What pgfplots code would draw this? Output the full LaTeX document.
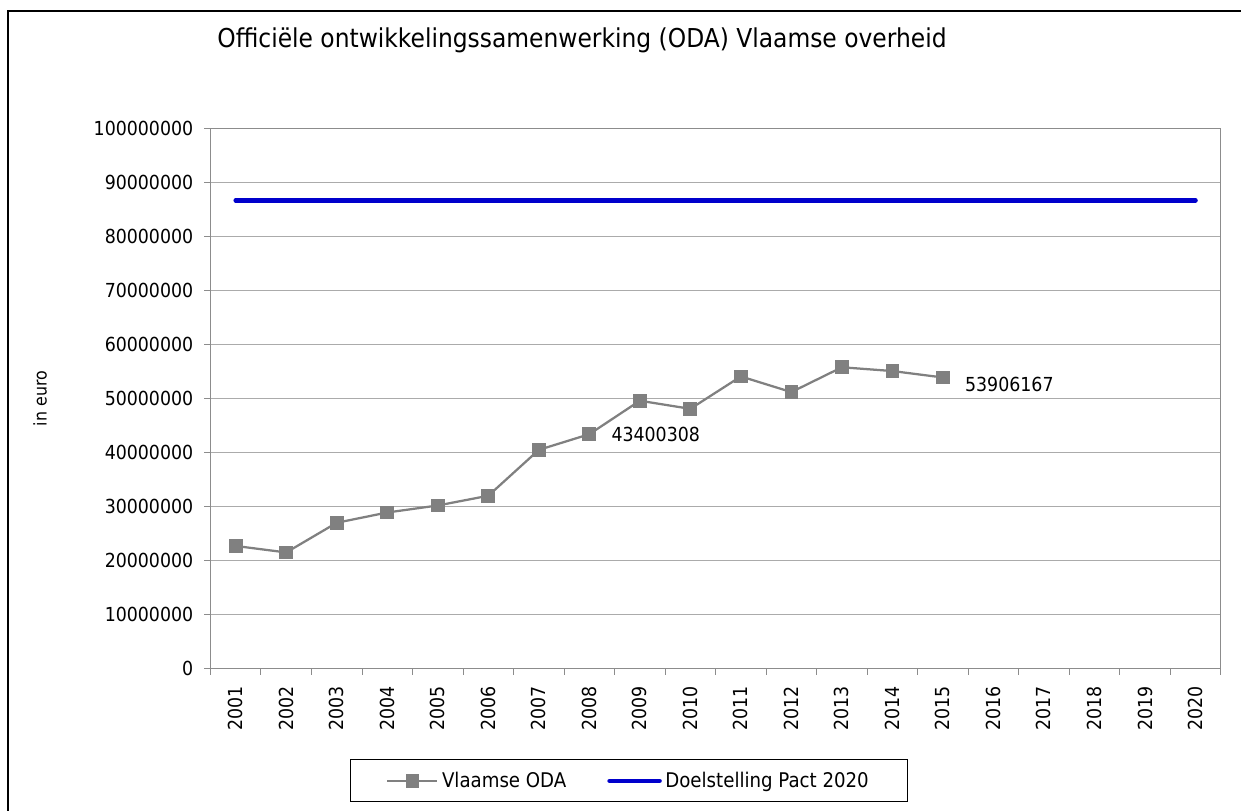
\documentclass[border=0pt]{standalone}
\usepackage{fontspec}
\setmainfont{DejaVu Sans Condensed}
\usepackage{pgfplots}
\pgfplotsset{compat=1.18}
\definecolor{odagray}{HTML}{808080}
\definecolor{pactblue}{HTML}{0000CC}
\definecolor{axgray}{HTML}{8C8C8C}
\definecolor{gridgray}{HTML}{ABABAB}

\begin{document}
\begin{tikzpicture}[x=0.02cm,y=0.02cm]
\clip (0,0) rectangle (1241,811);
\fill[white] (0,0) rectangle (1241,811);
\draw[line width=0.04cm] (8,-20) -- (8,800) -- (1280,800);
\begin{axis}[
  at={(4.21cm,2.85cm)}, anchor=south west,
  width=20.21cm, height=10.8cm, scale only axis,
  xmin=0.5, xmax=20.5, ymin=0, ymax=100000000,
  xtick={1,2,3,4,5,6,7,8,9,10,11,12,13,14,15,16,17,18,19,20},
  xticklabels={2001,2002,2003,2004,2005,2006,2007,2008,2009,2010,2011,2012,2013,2014,2015,2016,2017,2018,2019,2020},
  minor xtick={0.5,1.5,2.5,3.5,4.5,5.5,6.5,7.5,8.5,9.5,10.5,11.5,12.5,13.5,14.5,15.5,16.5,17.5,18.5,19.5,20.5},
  ytick={0,10000000,20000000,30000000,40000000,50000000,60000000,70000000,80000000,90000000,100000000},
  scaled y ticks=false,
  yticklabel style={/pgf/number format/.cd, fixed, 1000 sep={}, assume math mode=true},
  xtick pos=bottom, ytick pos=left,
  tick align=outside,
  major tick length=0.12cm, minor tick length=0.12cm,
  major x tick style={draw=none},
  every tick/.style={axgray, line width=0.02cm},
  axis line style={axgray, line width=0.025cm},
  ymajorgrids, grid style={gridgray, line width=0.025cm},
  tick label style={font=\fontsize{11}{13}\selectfont, black},
  xticklabel style={rotate=90, anchor=east},
  xticklabel shift=0.12cm,
  yticklabel shift=0.1cm,
  ylabel={in euro},
  ylabel style={at={(axis description cs:-0.1687,0.5)}, anchor=center, rotate=0, font=\fontsize{10}{12}\selectfont},
  legend columns=2,
  legend style={at={(axis description cs:0.4146,-0.208)}, anchor=center,
    draw=black, line width=0.025cm, font=\fontsize{11.5}{13}\selectfont,
    inner xsep=0.71cm, inner ysep=0.17cm,
    /tikz/every even column/.append style={column sep=0.75cm}},
  legend image code/.code={\draw[mark repeat=2,mark phase=2,#1] plot coordinates {(0cm,0cm) (0.5cm,0cm) (1.0cm,0cm)};},
  clip=false,
]
\addplot[odagray, line width=0.045cm, mark=square*, mark size=0.115cm,
  mark options={solid, draw=odagray, fill=odagray}] coordinates {
(1,22700000) (2,21500000) (3,27000000) (4,28900000) (5,30200000)
(6,32000000) (7,40500000) (8,43400308) (9,49600000) (10,48100000)
(11,54100000) (12,51200000) (13,55800000) (14,55100000) (15,53906167)};
\addlegendentry{Vlaamse ODA}
\addplot[pactblue, line width=0.09cm, line cap=round] coordinates {(1,86700000) (20,86700000)};
\addlegendentry{Doelstelling Pact 2020}
\node[anchor=west, font=\fontsize{11}{13}\selectfont, xshift=0.32cm] at (axis cs:8,43400308) {43400308};
\node[anchor=west, font=\fontsize{11}{13}\selectfont, xshift=0.32cm, yshift=-0.14cm] at (axis cs:15,53906167) {53906167};
\end{axis}
\node[font=\fontsize{14.8}{17}\selectfont] at (582,771) {Officiële ontwikkelingssamenwerking (ODA) Vlaamse overheid};
\end{tikzpicture}
\end{document}
